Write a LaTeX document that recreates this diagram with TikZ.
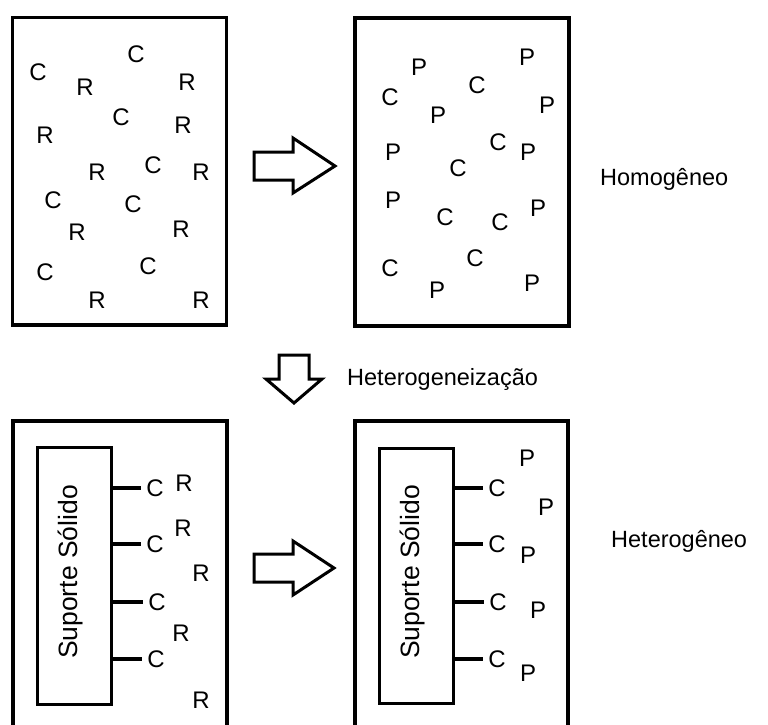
\documentclass[tikz,border=0pt]{standalone}
\usepackage{fontspec}
\setmainfont{Liberation Sans}
\begin{document}
\begin{tikzpicture}[x=1pt,y=-1pt,
  frame/.style={draw=black,line width=3.2pt,line join=miter},
  lt/.style={inner sep=0pt,font=\fontsize{24}{27}\selectfont},
  lbl/.style={inner sep=0pt,anchor=base west,font=\fontsize{23.5}{27}\selectfont},
  suptxt/.style={inner sep=0pt,rotate=90,font=\fontsize{26.5}{30}\selectfont},
  bond/.style={draw=black,line width=3.2pt,shorten >=5pt},
  fatarrow/.style={draw=black,line width=3pt,fill=white,line join=miter}]
\useasboundingbox (0,0) rectangle (768,724);
\clip (0,0) rectangle (768,724);

% reaction vessels, homogeneous system
\draw[frame] (12.5,17.5) rectangle (226.5,325);
\draw[frame] (355,18) rectangle (569,326);

% catalyst C and reagent R in solution
\node[lt] (a1) at (38,72) {C};
\node[lt] (a2) at (85,87) {R};
\node[lt] (a3) at (136,54) {C};
\node[lt] (a4) at (187,82) {R};
\node[lt] (a5) at (121,117) {C};
\node[lt] (a6) at (183,125) {R};
\node[lt] (a7) at (45,135) {R};
\node[lt] (a8) at (97,172) {R};
\node[lt] (a9) at (153,165) {C};
\node[lt] (a10) at (201,172) {R};
\node[lt] (a11) at (53,200) {C};
\node[lt] (a12) at (133,204) {C};
\node[lt] (a13) at (77,232) {R};
\node[lt] (a14) at (181,229) {R};
\node[lt] (a15) at (45,272) {C};
\node[lt] (a16) at (148,266) {C};
\node[lt] (a17) at (97,300) {R};
\node[lt] (a18) at (201,300) {R};

% catalyst C and product P in solution
\node[lt] (b1) at (419,67) {P};
\node[lt] (b2) at (390,97) {C};
\node[lt] (b3) at (477,85) {C};
\node[lt] (b4) at (527,57) {P};
\node[lt] (b5) at (547,105) {P};
\node[lt] (b6) at (438,115) {P};
\node[lt] (b7) at (393,152) {P};
\node[lt] (b8) at (498,142) {C};
\node[lt] (b9) at (528,152) {P};
\node[lt] (b10) at (458,168) {C};
\node[lt] (b11) at (393,200) {P};
\node[lt] (b12) at (445,217) {C};
\node[lt] (b13) at (500,222) {C};
\node[lt] (b14) at (538,208) {P};
\node[lt] (b15) at (390,268) {C};
\node[lt] (b16) at (475,258) {C};
\node[lt] (b17) at (437,290) {P};
\node[lt] (b18) at (532,283) {P};

% block arrows
\draw[fatarrow] (254,152) -- (293,152) -- (293,138) -- (335,166) -- (293,193) -- (293,180) -- (254,180) -- cycle;
\draw[fatarrow] (279,355) -- (309,355) -- (309,379) -- (322,379) -- (294,403) -- (266,379) -- (279,379) -- cycle;
\draw[fatarrow] (254,554) -- (293,554) -- (293,541) -- (334,568) -- (293,595) -- (293,582) -- (254,582) -- cycle;

% labels
\node[lbl] (homo) at (600,185) {Homogêneo};
\node[lbl] (hetz) at (347,385) {Heterogeneização};
\node[lbl] (hete) at (611,547) {Heterogêneo};

% reaction vessels, heterogeneous system
\draw[frame] (13,421) rectangle (227,740);
\draw[frame] (355,421) rectangle (568,740);

% solid supports
\node[draw=black,line width=3pt,minimum width=74pt,minimum height=257pt,inner sep=0pt] (s1) at (74,575.5) {};
\node[suptxt] (s1t) at (70,572) {Suporte Sólido};
\node[draw=black,line width=3pt,minimum width=74pt,minimum height=255pt,inner sep=0pt] (s2) at (416,575.5) {};
\node[suptxt] (s2t) at (412,572) {Suporte Sólido};

% anchored catalyst sites, left
\node[lt] (c1) at (155,488) {C};
\node[lt] (c2) at (155,544) {C};
\node[lt] (c3) at (157,602) {C};
\node[lt] (c4) at (156,659) {C};
\foreach \i in {1,...,4} \draw[bond] (s1.east |- c\i) -- (c\i.west);
\node[lt] (r1) at (184,483) {R};
\node[lt] (r2) at (183,528) {R};
\node[lt] (r3) at (201,573) {R};
\node[lt] (r4) at (181,633) {R};
\node[lt] (r5) at (201,700) {R};

% anchored catalyst sites, right
\node[lt] (d1) at (497,488) {C};
\node[lt] (d2) at (497,544) {C};
\node[lt] (d3) at (498,602) {C};
\node[lt] (d4) at (497,659) {C};
\foreach \i in {1,...,4} \draw[bond] (s2.east |- d\i) -- (d\i.west);
\node[lt] (p1) at (527,458) {P};
\node[lt] (p2) at (546,507) {P};
\node[lt] (p3) at (528,555) {P};
\node[lt] (p4) at (538,610) {P};
\node[lt] (p5) at (528,673) {P};
\end{tikzpicture}
\end{document}
